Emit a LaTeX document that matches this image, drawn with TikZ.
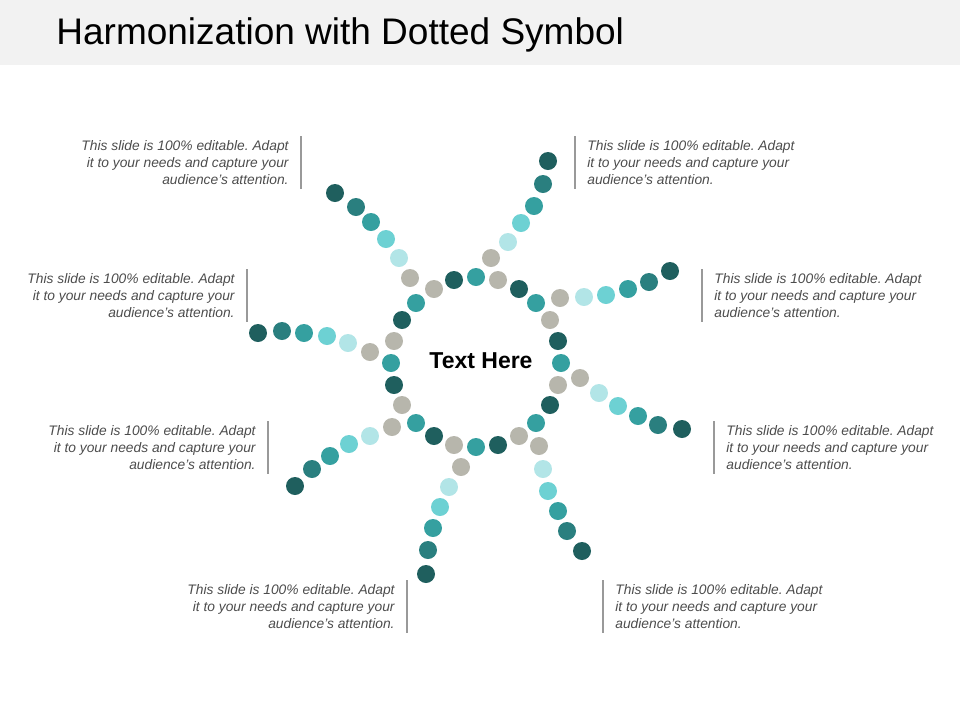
\documentclass[tikz,border=0pt]{standalone}
\usepackage{fontspec}
\setmainfont{Liberation Sans}
\usepackage{tikz}
\usetikzlibrary{positioning}
\frenchspacing
\definecolor{dotD}{HTML}{1F5F5E}
\definecolor{dotM}{HTML}{2A7F7F}
\definecolor{dotT}{HTML}{35A0A0}
\definecolor{dotL}{HTML}{6DD1D3}
\definecolor{dotP}{HTML}{B2E5E7}
\definecolor{dotG}{HTML}{B7B6AC}
\tikzstyle{dot}=[shape=circle, inner sep=0pt, minimum size=9pt]
\tikzstyle{note_left}=[align=right, anchor=north east, inner sep=0pt, text=black!70, font=\fontsize{6.9}{8.5}\selectfont\itshape]
\tikzstyle{note_right}=[align=left, anchor=north west, inner sep=0pt, text=black!70, font=\fontsize{6.9}{8.5}\selectfont\itshape]
\tikzstyle{note_bar}=[draw=black!40, line width=0.6pt]
\newcommand{\notetext}{This slide is 100\% editable. Adapt\\it to your needs and capture your\\audience's attention.}
\begin{document}
\begin{tikzpicture}[x=0.5pt, y=-0.5pt]
    \useasboundingbox (0,0) rectangle (960,720);
    % title band
    \fill [black!5] (0,0) rectangle (960,65);
    \node [anchor=west, inner sep=0pt, font=\fontsize{18.5}{22}\selectfont] (title) at (56,35) {Harmonization with Dotted Symbol};

    % ring
    \foreach \x/\y/\c [count=\i] in {434/289/G, 454/280/D, 476/277/T, 498/280/G, 519/289/D, 536/303/T,
        550/320/G, 558/341/D, 561/363/T, 558/385/G, 550/405/D, 536/423/T,
        519/436/G, 498/445/D, 476/447/T, 454/445/G, 434/436/D, 416/423/T,
        402/405/G, 394/385/D, 391/363/T, 394/341/G, 402/320/D, 416/303/T}
        \node [dot, fill=dot\c] (r\i) at (\x,\y) {};

    % arms
    \foreach \x/\y/\c [count=\i] in {
        491/258/G, 508/242/P, 521/223/L, 534/206/T, 543/184/M, 548/161/D,
        560/298/G, 584/297/P, 606/295/L, 628/289/T, 649/282/M, 670/271/D,
        580/378/G, 599/393/P, 618/406/L, 638/416/T, 658/425/M, 682/429/D,
        539/446/G, 543/469/P, 548/491/L, 558/511/T, 567/531/M, 582/551/D,
        461/467/G, 449/487/P, 440/507/L, 433/528/T, 428/550/M, 426/574/D,
        392/427/G, 370/436/P, 349/444/L, 330/456/T, 312/469/M, 295/486/D,
        370/352/G, 348/343/P, 327/336/L, 304/333/T, 282/331/M, 258/333/D,
        410/278/G, 399/258/P, 386/239/L, 371/222/T, 356/207/M, 335/193/D}
        \node [dot, fill=dot\c] (a\i) at (\x,\y) {};

    \node [font=\fontsize{11.5}{13}\selectfont\bfseries] (center) at (481,361) {Text Here};

    % notes on the left
    \foreach \x/\y [count=\i] in {289/140, 235/273, 256/425, 395/584}
    {
        \node [note_left] (nl\i) at (\x,\y) {\notetext};
        \draw [note_bar] ([xshift=6pt,yshift=2pt]nl\i.north east) -- ([xshift=6pt,yshift=-2pt]nl\i.south east);
    }
    % notes on the right
    \foreach \x/\y [count=\i] in {587/140, 714/273, 726/425, 615/584}
    {
        \node [note_right] (nr\i) at (\x,\y) {\notetext};
        \draw [note_bar] ([xshift=-6pt,yshift=2pt]nr\i.north west) -- ([xshift=-6pt,yshift=-2pt]nr\i.south west);
    }
\end{tikzpicture}
\end{document}
